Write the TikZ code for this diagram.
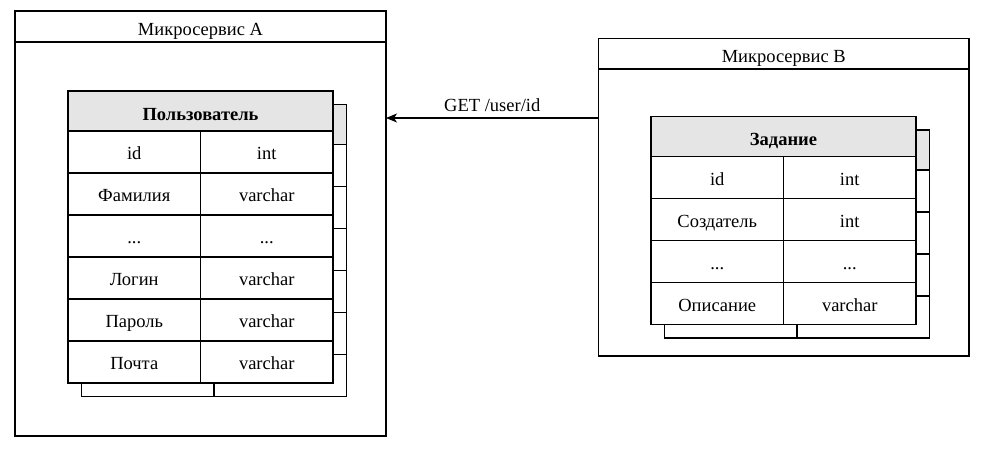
\documentclass[tikz,border=0pt]{standalone}
\usepackage{fontspec}
\setmainfont{Liberation Serif}
\usetikzlibrary{arrows.meta}
\newcommand\tdots{...}
\tikzset{
  frame/.style={draw=black, line width=1.3pt},
  txt/.style={font=\fontsize{18.5}{20}\selectfont},
  cell/.style={frame, txt, fill=white, minimum width=132.5pt, minimum height=42pt,
    inner sep=0pt, outer sep=0pt, anchor=north west, text height=17.5pt, text depth=2.5pt},
  hcell/.style={cell, fill=gray!20, minimum width=265pt, minimum height=40pt,
    font=\fontsize{18.5}{20}\selectfont\bfseries, text height=20pt, text depth=2pt},
  container/.style={frame, fill=white, inner sep=0pt, outer sep=0pt, anchor=north west},
  ctitle/.style={frame, txt, inner sep=0pt, outer sep=0pt, anchor=north west,
    text height=19pt, text depth=1pt},
  conn/.style={draw=black, line width=1.3pt, -{Stealth[length=11pt,width=9pt,inset=3pt]}},
}
\newcommand\dbtable[5]{%
  \begin{scope}[shift={(13.5,13.5)}]
    \node[hcell] (#1sh) at (#2,#3) {};
    \foreach \l/\r [count=\i] in {#5} {
      \node[cell] (#1sl\i) at (#2, #3+40+42*\i-42) {};
      \node[cell] (#1sr\i) at (#2+132.5, #3+40+42*\i-42) {};
    }
  \end{scope}
  \node[hcell] (#1h) at (#2,#3) {#4};
  \foreach \l/\r [count=\i] in {#5} {
    \node[cell] (#1l\i) at (#2, #3+40+42*\i-42) {\l};
    \node[cell] (#1r\i) at (#2+132.5, #3+40+42*\i-42) {\r};
  }
}
\begin{document}
\begin{tikzpicture}[x=1pt,y=-1pt]
  \useasboundingbox (0,0) rectangle (985,450);
  % Microservice A
  \node[container, minimum width=371pt, minimum height=425pt] (cA) at (15,11) {};
  \node[ctitle, minimum width=371pt, minimum height=31pt] (tA) at (15,11) {Микросервис A};
  \dbtable{a}{68}{91}{Пользователь}{id/int, Фамилия/varchar, \tdots/\tdots, Логин/varchar, Пароль/varchar, Почта/varchar}
  % Microservice B
  \node[container, minimum width=370.5pt, minimum height=317.5pt] (cB) at (598.5,38.5) {};
  \node[ctitle, minimum width=370.5pt, minimum height=30.5pt] (tB) at (598.5,38.5) {Микросервис B};
  \dbtable{b}{651}{116.5}{Задание}{id/int, Создатель/int, \tdots/\tdots, Описание/varchar}
  % connector
  \coordinate (ay) at (0,118);
  \draw[conn] (cB.west |- ay) -- (cA.east |- ay)
    node[midway, txt, anchor=base, yshift=6.7pt] (lbl) {GET /user/id};
\end{tikzpicture}
\end{document}
